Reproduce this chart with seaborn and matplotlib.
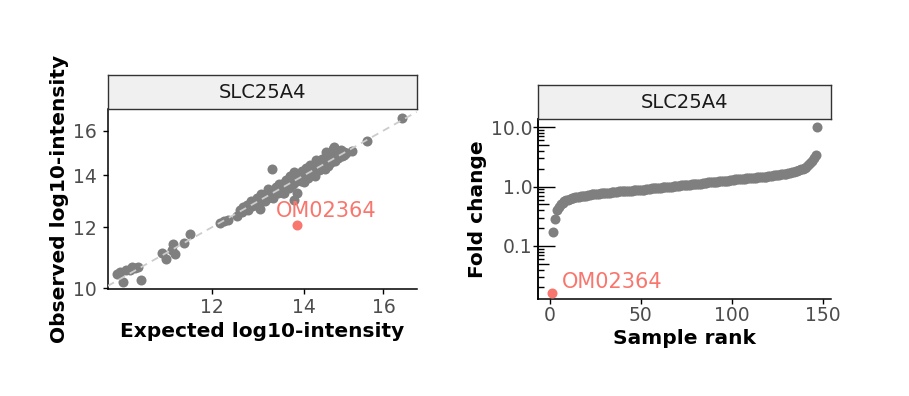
import numpy as np
import pandas as pd
import seaborn as sns
import matplotlib
matplotlib.use("Agg")
from matplotlib import pyplot as plt
from matplotlib import ticker

# Observed vs expected log10-intensity for one protein, one row per sample
protein = "SLC25A4"
outlier_sample = "OM02364"

# first entry is the outlier sample
expected = [
    13.85,
    10.22, 10.28, 10.34, 10.38, 10.49, 10.54, 10.59, 10.65, 10.45,
    11.03, 11.10, 11.24, 11.27, 11.45, 11.56, 11.21,
    12.16, 12.33, 12.25,
    13.28, 13.77, 15.17, 15.56, 16.52,
    12.52, 12.57, 12.61, 12.64, 12.69, 12.72, 12.75, 12.78, 12.81, 12.84,
    12.87, 12.90, 12.93, 12.95, 12.98,
    13.01, 13.03, 13.05, 13.08, 13.10, 13.12, 13.13, 13.15, 13.17, 13.19,
    13.21, 13.23, 13.25, 13.27, 13.29, 13.31, 13.33, 13.35, 13.37, 13.39,
    13.41, 13.43, 13.45, 13.47, 13.49,
    13.51, 13.53, 13.55, 13.57, 13.59, 13.61, 13.63, 13.65, 13.67, 13.69,
    13.71, 13.73, 13.75, 13.77, 13.79, 13.81, 13.83, 13.85, 13.87, 13.89,
    13.91, 13.93, 13.95, 13.97, 13.99,
    14.01, 14.03, 14.04, 14.06, 14.08, 14.10, 14.11, 14.13, 14.15, 14.17,
    14.19, 14.20, 14.22, 14.24, 14.26, 14.28, 14.30, 14.32, 14.33, 14.35,
    14.37, 14.39, 14.41, 14.42, 14.44, 14.46, 14.48, 14.49,
    14.51, 14.53, 14.55, 14.56, 14.58, 14.60, 14.62, 14.63, 14.65, 14.67,
    14.69, 14.70, 14.72, 14.74, 14.76, 14.77, 14.79, 14.81, 14.83, 14.84,
    14.86, 14.88, 14.90, 14.91, 14.93, 14.95, 14.97, 14.98, 15.02,
]
observed = [
    12.06,
    10.44, 10.50, 10.19, 10.57, 10.67, 10.62, 10.65, 10.25, 10.55,
    11.12, 10.91, 11.41, 11.09, 11.43, 11.74, 11.20,
    12.16, 12.27, 12.22,
    14.28, 13.01, 15.04, 15.52, 16.60,
    12.42, 12.62, 12.54, 12.76, 12.67, 12.81, 12.62, 12.81, 12.97, 12.79,
    12.88, 12.81, 13.00, 13.09, 12.94,
    12.67, 13.23, 12.97, 13.19, 13.12, 12.96, 13.26, 13.14, 13.44, 13.08,
    13.27, 13.38, 13.19, 13.31, 13.08, 13.41, 13.33, 13.52, 13.28, 13.51,
    13.27, 13.66, 13.42, 13.55, 13.50,
    13.29, 13.67, 13.30, 13.62, 13.80, 13.51, 13.74, 13.48, 13.96, 13.62,
    13.74, 13.89, 13.63, 14.13, 13.74, 13.94, 13.28, 13.87, 14.06, 13.81,
    13.98, 13.78, 14.19, 13.97, 14.03,
    13.71, 14.18, 13.94, 14.32, 14.09, 13.90, 14.22, 14.07, 14.46, 14.04,
    14.28, 14.40, 14.18, 14.38, 13.99, 14.68, 14.22, 14.37, 14.50, 14.24,
    14.60, 14.37, 14.54, 14.25, 14.72, 14.49, 14.41, 14.65,
    14.28, 15.02, 14.46, 14.68, 14.42, 14.93, 14.66, 14.51, 14.86, 14.66,
    15.13, 14.63, 15.26, 14.60, 15.06, 14.79, 14.74, 15.06, 14.75, 14.94,
    15.01, 14.85, 14.97, 15.09, 14.84, 15.01, 14.87, 14.99, 14.97,
]

GREY = "#7F7F7F"
RED = "#F8766D"
W, H = 909, 396
PT_SIZE = 52

df = pd.DataFrame({"expected": expected, "observed": observed})
df["sample"] = ""
df.loc[0, "sample"] = outlier_sample
df["is_outlier"] = df["sample"] == outlier_sample
df["fold_change"] = 10 ** (df["observed"] - df["expected"])
df = df.sort_values("fold_change").reset_index(drop=True)
df["rank"] = np.arange(1, len(df) + 1)

sns.set_style("ticks")
plt.rcParams["font.family"] = ["DejaVu Sans"]
plt.rcParams["axes.labelcolor"] = "black"


def px_axes(fig, left, top, right, bottom):
    return fig.add_axes([left / W, (H - bottom) / H, (right - left) / W, (bottom - top) / H])


def add_strip(fig, left, top, right, bottom, label):
    st = px_axes(fig, left, top, right, bottom)
    st.set_facecolor("#F0F0F0")
    st.set_xticks([])
    st.set_yticks([])
    for sp in st.spines.values():
        sp.set_visible(True)
        sp.set_color("#333333")
        sp.set_linewidth(1.0)
    st.text(0.5, 0.5, label, ha="center", va="center", fontsize=14,
            color="#1A1A1A", transform=st.transAxes)
    return st


def style_axes(ax):
    sns.despine(ax=ax)
    for side in ("left", "bottom"):
        ax.spines[side].set_color("black")
        ax.spines[side].set_linewidth(1.1)
    ax.tick_params(which="major", direction="out", length=3.6, width=1.0,
                   color="black", labelsize=13.5, labelcolor="#4D4D4D")


fig = plt.figure(figsize=(W / 100, H / 100), dpi=100)

# ---- left: observed vs expected
ax1 = px_axes(fig, 107.7, 109.3, 416.7, 289.3)
add_strip(fig, 107.7, 75, 416.7, 109.3, protein)
normal = df[~df["is_outlier"]]
flag = df[df["is_outlier"]]
sns.scatterplot(data=normal, x="expected", y="observed", color=GREY, s=PT_SIZE,
                linewidth=0, ax=ax1, zorder=2, legend=False)
ax1.set_xscale("log")
ax1.set_yscale("log")
ax1.axline((10, 10), (16, 16), color="#CCCCCC", lw=1.3, ls=(0, (4, 3)), zorder=3)
sns.scatterplot(data=flag, x="expected", y="observed", color=RED, s=PT_SIZE,
                linewidth=0, ax=ax1, zorder=4, legend=False)
ax1.text(14.54, 12.35, outlier_sample, ha="center", va="baseline",
         color=RED, fontsize=15, zorder=5)
ax1.set_xlim(10.07, 16.92)
ax1.set_ylim(9.97, 17.05)
ax1.xaxis.set_major_locator(ticker.FixedLocator([12, 14, 16]))
ax1.yaxis.set_major_locator(ticker.FixedLocator([10, 12, 14, 16]))
for axis in (ax1.xaxis, ax1.yaxis):
    axis.set_major_formatter(ticker.FormatStrFormatter("%d"))
    axis.set_minor_locator(ticker.NullLocator())
style_axes(ax1)
ax1.tick_params(axis="y", pad=4)
ax1.tick_params(axis="x", pad=3)
ax1.set_xlabel("Expected log10-intensity", fontsize=14.5, fontweight="bold",
               labelpad=3, color="black")
ax1.set_ylabel("Observed log10-intensity", fontsize=14.5, fontweight="bold",
               labelpad=3, color="black")

# ---- right: fold change by rank
ax2 = px_axes(fig, 538.3, 119, 830.7, 299.3)
add_strip(fig, 538.3, 85, 830.7, 119, protein)
sns.scatterplot(data=df[~df["is_outlier"]], x="rank", y="fold_change", color=GREY,
                s=PT_SIZE, linewidth=0, ax=ax2, zorder=2, legend=False)
sns.scatterplot(data=df[df["is_outlier"]], x="rank", y="fold_change", color=RED,
                s=PT_SIZE, linewidth=0, ax=ax2, zorder=4, legend=False)
ax2.set_yscale("log")
ax2.text(6.4, 0.0198, outlier_sample, ha="left", va="baseline",
         color=RED, fontsize=15, zorder=5)
ax2.set_xlim(-6.3, 154.3)
ax2.set_ylim(0.0126, 13.8)
ax2.xaxis.set_major_locator(ticker.FixedLocator([0, 50, 100, 150]))
ax2.yaxis.set_major_locator(ticker.FixedLocator([0.1, 1, 10]))
ax2.yaxis.set_major_formatter(ticker.FuncFormatter(lambda v, _: f"{v:.1f}"))
short_ticks = [k * 10.0 ** e for e in (-2, -1, 0) for k in (2, 3, 4, 6, 7, 8, 9)]
ax2.yaxis.set_minor_locator(ticker.FixedLocator(short_ticks))
ax2.yaxis.set_minor_formatter(ticker.NullFormatter())
style_axes(ax2)
ax2.tick_params(axis="y", which="minor", direction="in", length=4.1, width=1.0, color="black")
ax2.tick_params(axis="y", which="major", pad=0.5)
ax2.tick_params(axis="x", pad=1)

# log ticks drawn inside the panel (long at decades, mid at 5s)
sec = ax2.secondary_yaxis("left")
sec.yaxis.set_major_locator(ticker.FixedLocator([0.1, 1, 10]))
sec.yaxis.set_minor_locator(ticker.FixedLocator([0.05, 0.5, 5]))
sec.yaxis.set_major_formatter(ticker.NullFormatter())
sec.yaxis.set_minor_formatter(ticker.NullFormatter())
sec.tick_params(which="major", direction="in", length=12.2, width=1.0, color="black")
sec.tick_params(which="minor", direction="in", length=8.2, width=1.0, color="black")
sec.spines["left"].set_linewidth(1.1)
sec.spines["left"].set_color("black")

ax2.set_xlabel("Sample rank", fontsize=14.5, fontweight="bold", labelpad=3, color="black")
ax2.set_ylabel("Fold change", fontsize=14.5, fontweight="bold", labelpad=3, color="black")

fig.savefig("out.png", dpi=100)
